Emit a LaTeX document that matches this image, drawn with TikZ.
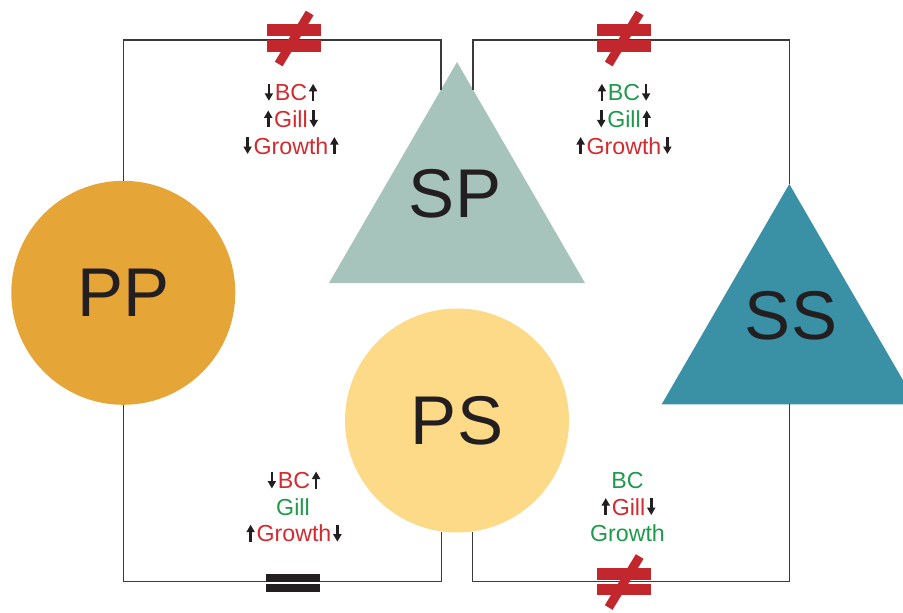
\documentclass[tikz,border=0pt]{standalone}
\usepackage{fontspec}
\setmainfont{Liberation Sans}
\usetikzlibrary{arrows.meta,calc,positioning}

\definecolor{ppfill}{HTML}{E6A537}
\definecolor{psfill}{HTML}{FCDA87}
\definecolor{spfill}{HTML}{A6C4BC}
\definecolor{ssfill}{HTML}{3A91A5}
\definecolor{textdark}{HTML}{231F20}
\definecolor{wiregray}{HTML}{3A3A3A}
\definecolor{tred}{HTML}{D42A2F}
\definecolor{tgreen}{HTML}{1E9A4C}
\definecolor{barred}{HTML}{C1272D}

\newcommand{\arrup}{\hspace{2pt}\tikz[baseline=0pt]\draw[textdark,line width=2.7pt,-{Triangle[length=7.5pt,width=8pt]}] (0pt,0pt) -- (0pt,17pt);\hspace{2pt}}
\newcommand{\arrdn}{\hspace{2pt}\tikz[baseline=0pt]\draw[textdark,line width=2.7pt,-{Triangle[length=7.5pt,width=8pt]}] (0pt,17pt) -- (0pt,0pt);\hspace{2pt}}

\tikzset{
  wire/.style={draw=wiregray, line width=1.3pt},
  fish/.style={circle, inner sep=0pt, minimum size=224pt, text=textdark,
    font=\fontsize{69}{69}\selectfont},
  bigtext/.style={inner sep=0pt, text=textdark, font=\fontsize{69}{69}\selectfont},
  effects/.style={align=center, anchor=base, inner sep=0pt,
    font=\fontsize{23.2}{26.6}\selectfont},
  neq/.pic={
    \fill[barred] (-27,-14) rectangle (27,-2);
    \fill[barred] (-27,2) rectangle (27,13.5);
    \draw[barred, line width=9pt] (16,-25) -- (-15,26);
  },
  same/.pic={
    \fill[textdark] (-27,-8.5) rectangle (27,-1.3);
    \fill[textdark] (-27,1.3) rectangle (27,9);
  }
}

\begin{document}
\begin{tikzpicture}[x=1pt, y=-1pt]
  \useasboundingbox (0,0) rectangle (903,613);
  \clip (0,0) rectangle (903,613);

  % corners of the triangles
  \coordinate (SPapex) at (457,62);
  \coordinate (SPleft) at (329,283);
  \coordinate (SPright) at (585,283);
  \coordinate (SSapex) at (789.3,184);
  \coordinate (SSleft) at (661.7,404.3);
  \coordinate (SSright) at (917,404.3);
  \coordinate (SSbase) at (789.3,404.3);
  \coordinate (spl) at ($(SPapex)!0.125!(SPleft)$);
  \coordinate (spr) at ($(SPapex)!0.125!(SPright)$);
  \coordinate (roof) at (0,40);
  \coordinate (floor) at (0,581.5);

  \fill[spfill] (SPapex) -- (SPright) -- (SPleft) -- cycle;
  \fill[ssfill] (SSapex) -- (SSright) -- (SSleft) -- cycle;

  \node[fish, fill=ppfill] (PP) at (123.3,292.8) {PP};
  \node[fish, fill=psfill] (PS) at (457,420.5) {PS};
  \node[bigtext] (SP) at (455,194) {SP};
  \node[bigtext] (SS) at (791,316) {SS};

  % wires
  \draw[wire] (PP.north) |- (spl |- roof) -- (spl);
  \draw[wire] (PP.south) |- (PS.262 |- floor) -- (PS.262);
  \draw[wire] (spr) |- (SSapex |- roof) -- (SSapex);
  \draw[wire] (SSbase) |- (PS.278 |- floor) -- (PS.278);

  \pic at (293.7,38) {neq};
  \pic at (623.7,38) {neq};
  \pic at (623.7,581.5) {neq};
  \pic at (293,582.8) {same};

  % base anchor = baseline of the last line
  \node[effects] (tlnote) at (290,154)
    {\arrdn\textcolor{tred}{BC}\arrup\\
     \arrup\textcolor{tred}{Gill}\arrdn\\
     \arrdn\textcolor{tred}{Growth}\arrup};
  \node[effects] (trnote) at (623,154)
    {\arrup\textcolor{tgreen}{BC}\arrdn\\
     \arrdn\textcolor{tgreen}{Gill}\arrup\\
     \arrup\textcolor{tred}{Growth}\arrdn};
  \node[effects] (blnote) at (293,541.7)
    {\arrdn\textcolor{tred}{BC}\arrup\\
     \textcolor{tgreen}{Gill}\\
     \arrup\textcolor{tred}{Growth}\arrdn};
  \node[effects] (brnote) at (627.5,541.7)
    {\textcolor{tgreen}{BC}\\
     \arrup\textcolor{tred}{Gill}\arrdn\\
     \textcolor{tgreen}{Growth}};
\end{tikzpicture}
\end{document}
